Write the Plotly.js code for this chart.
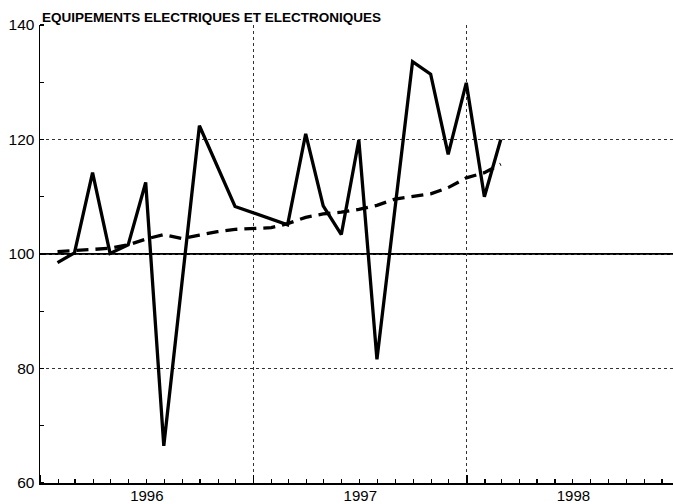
<!DOCTYPE html>
<html>
<head>
<meta charset="utf-8">
<script src="https://cdn.plot.ly/plotly-3.0.1.min.js"></script>
<style>
html,body{margin:0;padding:0;background:#fff;}
#chart{width:673px;height:504px;}
</style>
</head>
<body>
<div id="chart"></div>
<script>
// Monthly observations (plotted at month end)
const months = [
  "1996-01-31","1996-02-29","1996-03-31","1996-04-30","1996-05-31","1996-06-30",
  "1996-07-31","1996-08-31","1996-09-30","1996-10-31","1996-11-30","1996-12-31",
  "1997-01-31","1997-02-28","1997-03-31","1997-04-30","1997-05-31","1997-06-30",
  "1997-07-31","1997-08-31","1997-09-30","1997-10-31","1997-11-30","1997-12-31",
  "1998-01-31","1998-02-28"
];
// Raw index (gaps where no vertex is visible)
const indexValues = [
  98.5, 100.2, 114.2, 100.1, 101.6, 112.5,
  66.5, null, 122.4, null, 108.3, null,
  null, 105.1, 121.0, 108.4, 103.4, 119.9,
  81.6, null, 133.6, 131.4, 117.4, 129.9,
  110.0, 120.0
];
// Trend (dashed)
const trendValues = [
  100.4, 100.6, 100.9, 101.0, 101.6, 102.6,
  103.4, 102.7, 103.3, 103.9, 104.3, 104.5,
  104.6, 105.3, 106.4, 107.0, 107.3, 107.8,
  108.5, 109.6, 110.0, 110.5, 111.6, 113.3,
  114.2, 115.7
];
const yTicks = [60, 80, 100, 120, 140];
const yTickLabels = ["60", "80", "100", "120", "140"];
const titleText = "EQUIPEMENTS ELECTRIQUES ET ELECTRONIQUES";

const traces = [
  {
    x: months, y: trendValues, type: "scatter", mode: "lines",
    line: {color: "#000", width: 3.3, dash: "12px,7px"},
    hoverinfo: "skip"
  },
  {
    x: months, y: indexValues, type: "scatter", mode: "lines",
    connectgaps: true,
    line: {color: "#000", width: 3.3},
    hoverinfo: "skip"
  }
];

const layout = {
  width: 673, height: 504,
  margin: {l: 40, r: 0, t: 25, b: 21, pad: 0},
  paper_bgcolor: "#fff", plot_bgcolor: "#fff",
  showlegend: false,
  font: {family: "Liberation Sans, Arial, sans-serif", color: "#000", size: 15},
  title: {
    text: titleText,
    font: {family: "Liberation Sans, Arial, sans-serif", size: 13.5, color: "#000", weight: 700},
    xref: "container", x: 42/673, xanchor: "left",
    yref: "container", y: 1 - 17/504, yanchor: "middle"
  },
  xaxis: {
    type: "date",
    range: ["1996-01-01", "1998-12-20"],
    tick0: "1996-01-01", dtick: "M12",
    tickformat: "%Y",
    ticklabelmode: "period",
    ticks: "inside", ticklen: 8, tickwidth: 1.5, tickcolor: "#000",
    showgrid: true, gridcolor: "#333", gridwidth: 1, griddash: "dot",
    showline: true, linecolor: "#000", linewidth: 1.5,
    zeroline: false,
    tickfont: {size: 15, color: "#000"},
    ticklabelstandoff: -2,
    minor: {dtick: "M1", ticks: "inside", ticklen: 4, tickwidth: 1.2, tickcolor: "#000", showgrid: false},
    fixedrange: true
  },
  yaxis: {
    range: [60, 140],
    tickmode: "array", tickvals: yTicks, ticktext: yTickLabels,
    ticks: "",
    showgrid: true, gridcolor: "#333", gridwidth: 1, griddash: "dot",
    showline: true, linecolor: "#000", linewidth: 1.5,
    zeroline: false,
    tickfont: {size: 15.5, color: "#000"},
    ticklabelstandoff: 1,
    minor: {dtick: 10, tick0: 60, ticks: "inside", ticklen: 4, tickwidth: 1.2, tickcolor: "#000", showgrid: false},
    fixedrange: true
  },
  shapes: [
    {type: "line", xref: "paper", x0: 0, x1: 1, yref: "y", y0: 100, y1: 100,
     line: {color: "#000", width: 2}, layer: "below"}
  ]
};

Plotly.newPlot("chart", traces, layout, {displayModeBar: false, staticPlot: true});
</script>
</body>
</html>
